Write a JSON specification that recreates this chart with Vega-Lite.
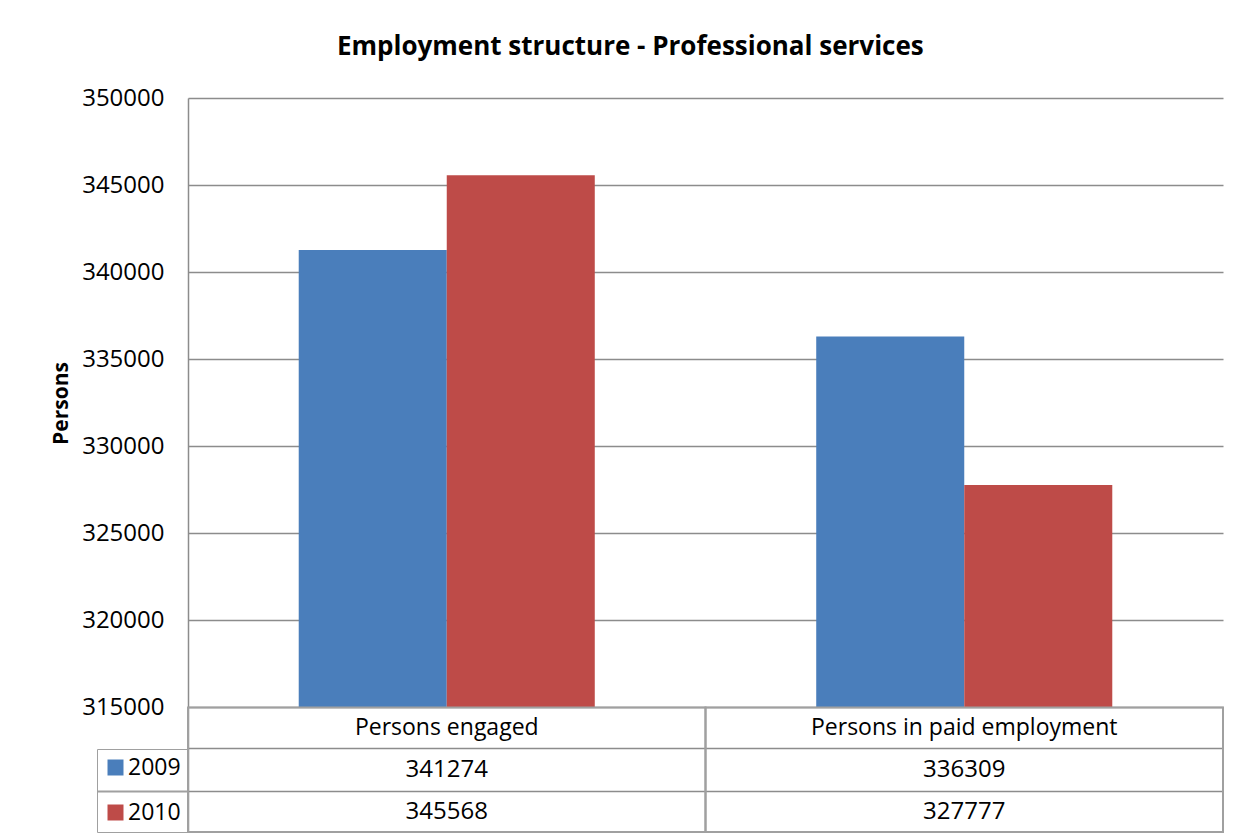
{
  "$schema": "https://vega.github.io/schema/vega-lite/v6.json",
  "width": 1035,
  "height": 734,
  "autosize": {"type": "none"},
  "padding": {"left": 188, "top": 98, "right": 27, "bottom": 8},
  "background": "white",
  "title": {
    "text": "Employment structure - Professional services",
    "font": "Open Sans",
    "fontSize": 26,
    "fontWeight": "bold",
    "color": "#000000",
    "anchor": "middle",
    "frame": "bounds",
    "offset": 26,
    "dx": -7
  },
  "data": {
    "values": [
      {"category": "Persons engaged", "year": "2009", "value": 341274},
      {"category": "Persons engaged", "year": "2010", "value": 345568},
      {"category": "Persons in paid employment", "year": "2009", "value": 336309},
      {"category": "Persons in paid employment", "year": "2010", "value": 327777}
    ]
  },
  "encoding": {
    "x": {
      "field": "category",
      "type": "nominal",
      "sort": null,
      "scale": {"paddingInner": 0, "paddingOuter": 0},
      "axis": null
    }
  },
  "layer": [
    {
      "mark": {"type": "bar"},
      "encoding": {
        "xOffset": {
          "field": "year",
          "type": "nominal",
          "scale": {"paddingInner": 0, "paddingOuter": 0.748}
        },
        "y": {
          "field": "value",
          "type": "quantitative",
          "scale": {"domain": [307850, 350000], "nice": false, "zero": false},
          "axis": {
            "title": "Persons",
            "titleFont": "Open Sans",
            "titleFontSize": 21,
            "titleFontWeight": "bold",
            "titleColor": "#000000",
            "titleY": 305,
            "titlePadding": 10,
            "values": [315000, 320000, 325000, 330000, 335000, 340000, 345000, 350000, 312650, 310200],
            "format": "d",
            "labelExpr": "datum.value >= 315000 ? datum.label : ''",
            "labelFont": "Open Sans",
            "labelFontSize": 24,
            "labelColor": "#000000",
            "labelPadding": -67,
            "grid": true,
            "gridColor": "#8C8C8C",
            "gridWidth": 1.5,
            "domain": true,
            "domainColor": "#8C8C8C",
            "domainWidth": 1.5,
            "ticks": true,
            "tickSize": 91,
            "tickWidth": 2,
            "tickColor": {"condition": {"test": "datum.value == 310200", "value": "#A0A0A0"}, "value": "transparent"}
          }
        },
        "y2": {"datum": 315000},
        "color": {
          "field": "year",
          "type": "nominal",
          "scale": {"domain": ["2009", "2010"], "range": ["#4A7EBB", "#BE4B48"]},
          "legend": {
            "title": null,
            "orient": "none",
            "legendX": -91,
            "legendY": 651,
            "symbolType": "square",
            "symbolSize": 256,
            "symbolStrokeWidth": 0,
            "labelFont": "Open Sans",
            "labelFontSize": 23,
            "labelColor": "#000000",
            "labelOffset": 1,
            "rowPadding": 21,
            "padding": 7,
            "strokeColor": "#A0A0A0"
          }
        }
      }
    },
    {
      "mark": {"type": "rect", "fill": null, "stroke": "#A0A0A0", "strokeWidth": 2},
      "transform": [{"filter": "datum.year == '2009'"}],
      "encoding": {
        "y": {"datum": 315000, "type": "quantitative"},
        "y2": {"datum": 307850}
      }
    },
    {
      "mark": {"type": "text", "font": "Open Sans", "fontSize": 23, "color": "#000000"},
      "transform": [{"filter": "datum.year == '2009'"}],
      "encoding": {
        "y": {"datum": 313825, "type": "quantitative"},
        "text": {"field": "category"}
      }
    },
    {
      "mark": {"type": "text", "font": "Open Sans", "fontSize": 24, "color": "#000000"},
      "transform": [{"filter": "datum.year == '2009'"}],
      "encoding": {
        "y": {"datum": 311425, "type": "quantitative"},
        "text": {"field": "value", "type": "quantitative", "format": "d"}
      }
    },
    {
      "mark": {"type": "text", "font": "Open Sans", "fontSize": 24, "color": "#000000"},
      "transform": [{"filter": "datum.year == '2010'"}],
      "encoding": {
        "y": {"datum": 309025, "type": "quantitative"},
        "text": {"field": "value", "type": "quantitative", "format": "d"}
      }
    }
  ],
  "config": {
    "view": {"stroke": null}
  }
}
